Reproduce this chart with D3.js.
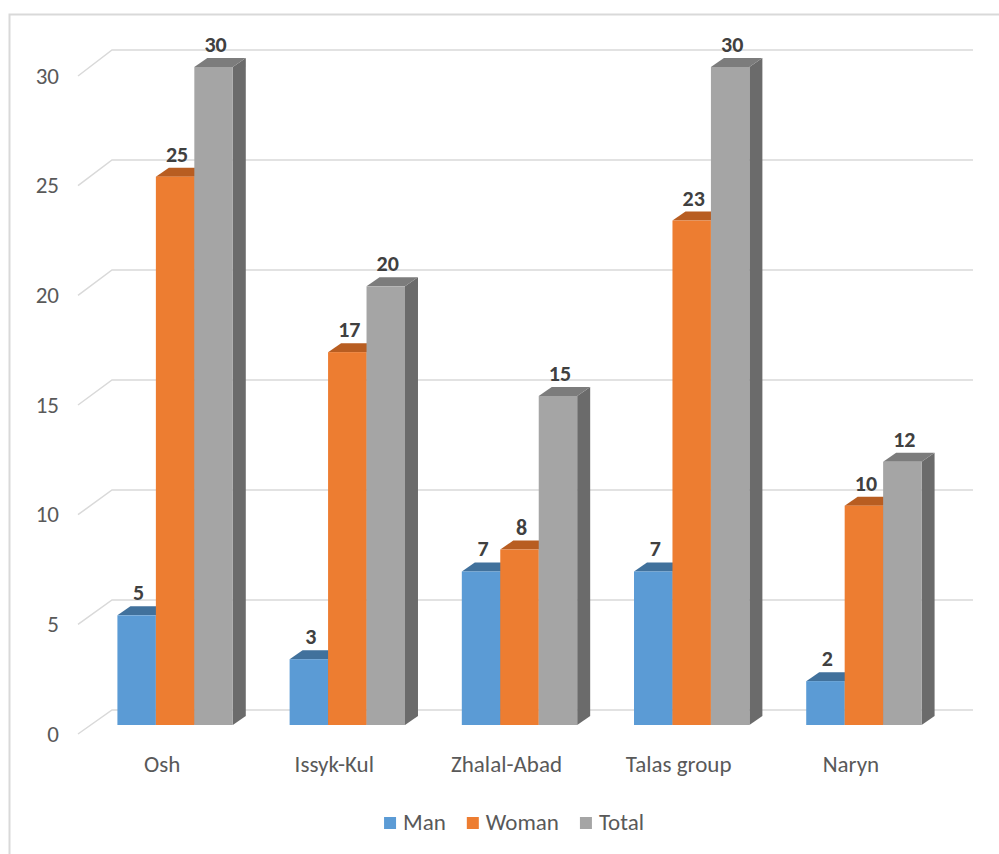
<!DOCTYPE html>
<html>
<head>
<meta charset="utf-8">
<script src="https://cdn.jsdelivr.net/npm/d3@7"></script>
<style>
  body { margin: 0; background: #fff; }
  text { font-family: Carlito, "Open Sans", Lato, sans-serif; }
</style>
</head>
<body>
<div class="canvas"></div>
<script>
// data
const categories = ['Osh', 'Issyk-Kul', 'Zhalal-Abad', 'Talas group', 'Naryn']
const seriesNames = ['Man', 'Woman', 'Total']
const man = [5, 3, 7, 7, 2]
const woman = [25, 17, 8, 23, 10]
const total = [30, 20, 15, 30, 12]
const yTicks = [0, 5, 10, 15, 20, 25, 30]

const values = [man, woman, total]

// face colours: front, top, side
const colors = {
    Man: { front: '#5B9BD5', top: '#41719C', side: '#3A6590' },
    Woman: { front: '#ED7D31', top: '#B85D21', side: '#AA561E' },
    Total: { front: '#A5A5A5', top: '#7C7C7C', side: '#6B6B6B' }
}

const width = 999
const height = 854

const svg = d3.select('.canvas')
    .append('svg')
    .attr('width', width)
    .attr('height', height)

// chart border
svg.append('rect')
    .attr('x', 9.5)
    .attr('y', 14.5)
    .attr('width', 1100)
    .attr('height', 1000)
    .attr('fill', '#fff')
    .attr('stroke', '#d9d9d9')
    .attr('stroke-width', 2)

// scales
const x0 = d3.scaleBand()
    .domain(categories)
    .range([89, 950])
    .paddingInner(0.33)
    .paddingOuter(0.165)

const x1 = d3.scaleBand()
    .domain(seriesNames)
    .range([0, x0.bandwidth()])

const yBar = d3.scaleLinear().domain([0, 30]).range([725, 67])
const yBack = d3.scaleLinear().domain([0, 30]).range([710, 50])
const yFront = d3.scaleLinear().domain([0, 30]).range([734, 76])

// wall depth and bar depth
const wallDx = 34
const barDx = 13, barDy = 9

// gridlines (floor edge + back wall)
const grid = svg.append('g')
grid.selectAll('path')
    .data(yTicks)
    .enter()
    .append('path')
    .attr('d', d => `M78,${yFront(d)}L${78 + wallDx},${yBack(d)}L973,${yBack(d)}`)
    .attr('fill', 'none')
    .attr('stroke', '#d9d9d9')
    .attr('stroke-width', 1.5)

// y tick labels
svg.append('g').selectAll('text')
    .data(yTicks)
    .enter()
    .append('text')
    .attr('x', 59)
    .attr('y', d => yFront(d))
    .attr('dy', '0.33em')
    .attr('text-anchor', 'end')
    .attr('font-size', 23)
    .attr('fill', '#595959')
    .text(d => d)

// bars
const barData = []
categories.forEach((c, i) => {
    seriesNames.forEach((s, j) => {
        barData.push({ cat: c, series: s, value: values[j][i] })
    })
})

const bars = svg.append('g').selectAll('g')
    .data(barData)
    .enter()
    .append('g')

const bx = d => x0(d.cat) + x1(d.series)
const bw = x1.bandwidth()
const base = yBar(0)

// side face
bars.append('path')
    .attr('d', d => {
        const x = bx(d) + bw, y = yBar(d.value)
        return `M${x},${y}L${x + barDx},${y - barDy}L${x + barDx},${base - barDy}L${x},${base}Z`
    })
    .attr('fill', d => colors[d.series].side)

// top face
bars.append('path')
    .attr('d', d => {
        const x = bx(d), y = yBar(d.value)
        return `M${x},${y}L${x + barDx},${y - barDy}L${x + bw + barDx},${y - barDy}L${x + bw},${y}Z`
    })
    .attr('fill', d => colors[d.series].top)

// front face
bars.append('rect')
    .attr('x', d => bx(d))
    .attr('y', d => yBar(d.value))
    .attr('width', bw)
    .attr('height', d => base - yBar(d.value))
    .attr('fill', d => colors[d.series].front)

// data labels
svg.append('g').selectAll('text')
    .data(barData)
    .enter()
    .append('text')
    .attr('x', d => bx(d) + bw / 2 + 2)
    .attr('y', d => yBar(d.value) - barDy - 6)
    .attr('text-anchor', 'middle')
    .attr('font-size', 22)
    .attr('font-weight', 'bold')
    .attr('fill', '#404040')
    .text(d => d.value)

// category labels
svg.append('g').selectAll('text')
    .data(categories)
    .enter()
    .append('text')
    .attr('x', d => x0(d) + x0.bandwidth() / 2 - 13)
    .attr('y', 772)
    .attr('text-anchor', 'middle')
    .attr('font-size', 23)
    .attr('fill', '#595959')
    .text(d => d)

// legend
const legend = svg.append('g')
const items = legend.selectAll('g')
    .data(seriesNames)
    .enter()
    .append('g')

items.append('rect')
    .attr('width', 12)
    .attr('height', 12)
    .attr('y', 817)
    .attr('fill', d => colors[d].front)

items.append('text')
    .attr('x', 19)
    .attr('y', 830)
    .attr('font-size', 23)
    .attr('fill', '#595959')
    .text(d => d)

// lay legend items out side by side and centre them
let offset = 0
const gap = 21
items.each(function () {
    const w = 19 + d3.select(this).select('text').node().getComputedTextLength()
    d3.select(this).attr('data-x', offset)
    offset += w + gap
})
const legendWidth = offset - gap
const legendStart = 514 - legendWidth / 2
items.attr('transform', function () {
    return `translate(${legendStart + +this.getAttribute('data-x')}, 0)`
})
</script>
</body>
</html>
